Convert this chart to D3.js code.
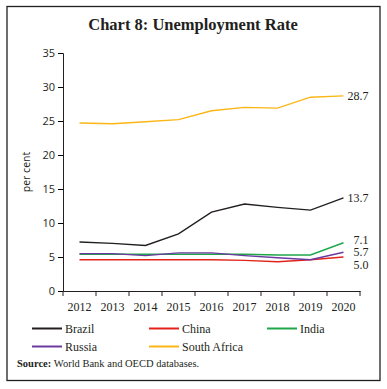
<!DOCTYPE html>
<html>
<head>
<meta charset="utf-8">
<script src="https://cdn.jsdelivr.net/npm/d3@7"></script>
<style>
  body { margin: 0; background: #fff; }
  svg text { fill: #231f20; }
</style>
</head>
<body>
<svg id="chart" width="387" height="389"></svg>
<script>
// data (per cent)
const years = ['2012', '2013', '2014', '2015', '2016', '2017', '2018', '2019', '2020'];
const brazil = [7.2, 7.0, 6.7, 8.4, 11.6, 12.8, 12.3, 11.9, 13.7];
const china = [4.6, 4.6, 4.6, 4.6, 4.6, 4.5, 4.3, 4.6, 5.0];
const india = [5.4, 5.4, 5.4, 5.4, 5.4, 5.4, 5.3, 5.3, 7.1];
const russia = [5.5, 5.5, 5.2, 5.6, 5.6, 5.2, 4.9, 4.6, 5.7];
const southAfrica = [24.7, 24.6, 24.9, 25.2, 26.5, 27.0, 26.9, 28.5, 28.7];
const yTicks = [0, 5, 10, 15, 20, 25, 30, 35];

const series = [
    { name: 'Brazil', values: brazil, color: '#231f20', labelDy: 0 },
    { name: 'China', values: china, color: '#e2231a', labelDy: 8 },
    { name: 'India', values: india, color: '#1fa64a', labelDy: -3 },
    { name: 'Russia', values: russia, color: '#6a3aa0', labelDy: 0 },
    { name: 'South Africa', values: southAfrica, color: '#fbb616', labelDy: 0 }
];

const svg = d3.select('#chart');
const MARGIN = { left: 63, right: 27, top: 53, bottom: 98 };
const WIDTH = 387, HEIGHT = 389;

// frame
svg.append('rect')
    .attr('x', 7).attr('y', 6.5)
    .attr('width', 373).attr('height', 374)
    .attr('fill', 'none')
    .attr('stroke', '#231f20')
    .attr('stroke-width', 1.3);

svg.append('text')
    .attr('x', 193).attr('y', 30)
    .attr('text-anchor', 'middle')
    .style('font-family', '"Liberation Serif", serif')
    .style('font-weight', 'bold')
    .style('font-size', '16.5px')
    .text('Chart 8: Unemployment Rate');

const scaleX = d3.scaleBand()
    .domain(years)
    .range([MARGIN.left, WIDTH - MARGIN.right]);

const scaleY = d3.scaleLinear()
    .domain([0, 35])
    .range([HEIGHT - MARGIN.bottom, MARGIN.top]);

const cx = d => scaleX(d) + scaleX.bandwidth() / 2;

// y axis
const yAxis = svg.append('g')
    .attr('transform', `translate(${MARGIN.left},0)`)
    .call(d3.axisLeft(scaleY).tickValues(yTicks).tickSize(5).tickPadding(3));
yAxis.selectAll('text')
    .style('font-family', '"Open Sans", sans-serif')
    .style('font-size', '11px')
    .attr('fill', '#231f20');

// x axis, ticks between bands
const xAxis = svg.append('g')
    .attr('transform', `translate(0,${HEIGHT - MARGIN.bottom})`)
    .call(d3.axisBottom(scaleX).tickSize(0).tickPadding(11));
xAxis.selectAll('text')
    .style('font-family', '"Liberation Serif", serif')
    .style('font-size', '12px')
    .attr('fill', '#231f20');
xAxis.selectAll('.bound')
    .data(years.concat(['end']))
    .join('line')
    .attr('class', 'bound')
    .attr('x1', (d, i) => i < years.length ? scaleX(d) : scaleX.range()[1])
    .attr('x2', (d, i) => i < years.length ? scaleX(d) : scaleX.range()[1])
    .attr('y1', 0).attr('y2', 5)
    .attr('stroke', '#231f20');
svg.selectAll('.domain').attr('stroke', '#231f20');

svg.append('text')
    .attr('transform', `translate(30,${(scaleY(0) + scaleY(35)) / 2}) rotate(-90)`)
    .attr('text-anchor', 'middle')
    .style('font-family', '"Open Sans", sans-serif')
    .style('font-size', '10.5px')
    .text('per cent');

// lines
const line = d3.line()
    .x((d, i) => cx(years[i]))
    .y(d => scaleY(d));

svg.selectAll('.series')
    .data(series)
    .join('path')
    .attr('class', 'series')
    .attr('d', d => line(d.values))
    .attr('fill', 'none')
    .attr('stroke', d => d.color)
    .attr('stroke-width', 1.4);

// end labels
svg.selectAll('.end-label')
    .data(series)
    .join('text')
    .attr('class', 'end-label')
    .attr('x', cx('2020') + 25)
    .attr('y', d => scaleY(d.values[d.values.length - 1]) + d.labelDy)
    .attr('dy', '0.35em')
    .attr('text-anchor', 'end')
    .style('font-family', '"Liberation Serif", serif')
    .style('font-size', '12px')
    .text(d => d3.format('.1f')(d.values[d.values.length - 1]));

// legend
const legendPos = [[32, 328.5], [149, 328.5], [267, 328.5], [32, 346.5], [149, 346.5]];
const legend = svg.selectAll('.legend')
    .data(series)
    .join('g')
    .attr('class', 'legend')
    .attr('transform', (d, i) => `translate(${legendPos[i][0]},${legendPos[i][1]})`);
legend.append('line')
    .attr('x1', 0).attr('x2', 30)
    .attr('stroke', d => d.color)
    .attr('stroke-width', 2);
legend.append('text')
    .attr('x', 33)
    .attr('dy', '0.35em')
    .style('font-family', '"Liberation Serif", serif')
    .style('font-size', '12px')
    .text(d => d.name);

const source = svg.append('text')
    .attr('x', 17).attr('y', 367)
    .style('font-family', '"Liberation Serif", serif')
    .style('font-size', '10.5px');
source.append('tspan').style('font-weight', 'bold').text('Source: ');
source.append('tspan').text('World Bank and OECD databases.');
</script>
</body>
</html>
